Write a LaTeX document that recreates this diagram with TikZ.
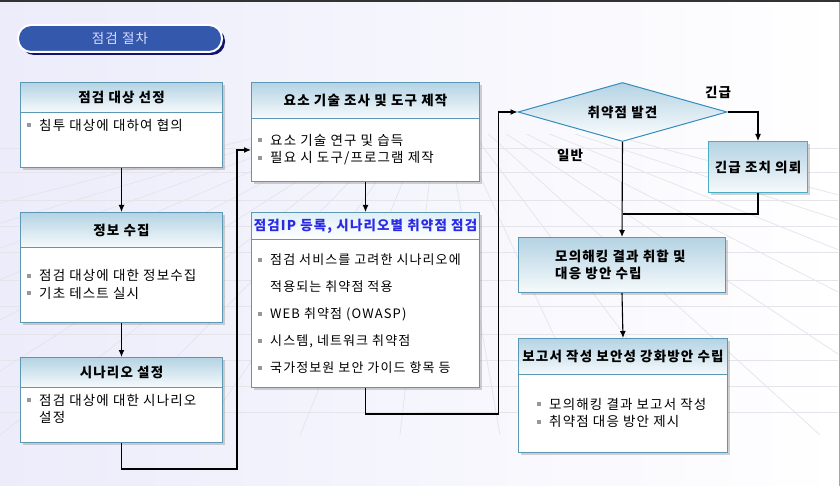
\documentclass[tikz,border=0pt]{standalone}
\usepackage{fontspec}
\setmainfont{Noto Sans CJK KR}[LetterSpace=8.5]
\usetikzlibrary{shapes.geometric,shadows,arrows.meta,positioning}

\definecolor{bgtop}{RGB}{236,236,251}
\definecolor{boxline}{RGB}{92,152,180}
\definecolor{headtop}{RGB}{180,211,227}
\definecolor{headbot}{RGB}{246,250,252}
\definecolor{pale}{RGB}{224,239,248}
\definecolor{pillblue}{RGB}{52,88,172}
\definecolor{pillshade}{RGB}{18,18,112}
\definecolor{bulgray}{RGB}{150,150,158}
\definecolor{gridgray}{RGB}{228,228,234}
\definecolor{linkblue}{RGB}{42,42,228}
\definecolor{dialine}{RGB}{52,140,190}

\newcommand{\bul}{\textcolor{bulgray}{\rule[3pt]{4pt}{4pt}}\hspace{8pt}}
\newcommand{\ind}{\hspace*{12pt}}

\begin{document}
\begin{tikzpicture}[x=1pt, y=-1pt, >={Latex[length=7pt,width=6pt]},
  font=\fontsize{13.5}{17.5}\selectfont,
  frame/.style={draw=boxline, line width=1pt, fill=white, anchor=north west, inner sep=0pt,
    drop shadow={shadow xshift=2.5pt, shadow yshift=-2.5pt, opacity=0.35, fill=black!50}},
  head/.style={draw=boxline, line width=1pt, top color=headtop, bottom color=headbot,
    anchor=north west, inner sep=0pt, font=\fontsize{13.5}{16}\selectfont\bfseries},
  item/.style={anchor=west, inner sep=0pt, align=left},
  link/.style={->, line width=1.1pt},
  tag/.style={font=\fontsize{13.5}{16}\selectfont\bfseries}]

  % background and floor grid
  \useasboundingbox (0,0) rectangle (840,486);
  \shade[left color=bgtop, right color=white] (0,0) rectangle (840,486);
  \begin{scope}
    \clip (0,135) rectangle (838,435);
    \foreach \gx in {-900,-700,-520,-360,-220,-100,0,100,200,300,400,500,600,700,820,960,1120,1300,1500,1750}
      \draw[gridgray, line width=0.7pt] (440,90) -- (\gx,435);
    \foreach \gy in {148,172,200,226,252,280,306,334,360,386,412}
      \draw[gridgray, line width=0.7pt] (0,\gy) -- (838,\gy);
  \end{scope}
  \fill[black!80] (0,0) rectangle (840,2);
  \draw[black!35, line width=1pt] (839,2) -- (839,486);

  % title
  \node[rounded corners=13pt, fill=pillblue, draw=white, line width=2pt,
    minimum width=204pt, minimum height=27pt, text=white!86!blue,
    drop shadow={shadow xshift=3pt, shadow yshift=-3pt, fill=pillshade, opacity=1}]
    (title) at (120,38.5) {점검 절차};

  % left column
  \node[frame, minimum width=202pt, minimum height=85pt] (target) at (20,82) {};
  \node[head, minimum width=202pt, minimum height=30pt] (targethd) at (target.north west) {점검 대상 선정};
  \node[item] (targettx) at (27,125) {\bul 침투 대상에 대하여 협의};

  \node[frame, minimum width=202pt, minimum height=110pt] (info) at (20,212) {};
  \node[head, minimum width=202pt, minimum height=35pt] (infohd) at (info.north west) {정보 수집};
  \node[item] (infotx) at (27,284.5) {\bul 점검 대상에 대한 정보수집\\\bul 기초 테스트 실시};

  \node[frame, minimum width=202pt, minimum height=85pt] (scen) at (20,357) {};
  \node[head, minimum width=202pt, minimum height=30pt] (scenhd) at (scen.north west) {시나리오 설정};
  \node[item] (scentx) at (27,409) {\bul 점검 대상에 대한 시나리오\\\ind 설정};

  % middle column
  \node[frame, minimum width=228pt, minimum height=99pt] (tool) at (251,82) {};
  \node[head, minimum width=228pt, minimum height=36pt] (toolhd) at (tool.north west) {요소 기술 조사 및 도구 제작};
  \node[item] (tooltx) at (258,149.5) {\bul 요소 기술 연구 및 습득\\\bul 필요 시 도구/프로그램 제작};

  \node[frame, minimum width=228pt, minimum height=175pt] (check) at (251,212) {};
  \node[head, minimum width=228pt, minimum height=27pt, top color=pale, bottom color=white,
    text=linkblue] (checkhd) at (check.north west) {점검IP 등록, 시나리오별 취약점 점검};
  \node[item, font=\fontsize{13}{27}\selectfont] (checktx) at (258,314)
    {\bul 점검 서비스를 고려한 시나리오에\\\ind 적용되는 취약점 적용\\\bul WEB 취약점 (OWASP)\\\bul 시스템, 네트워크 취약점\\\bul 국가정보원 보안 가이드 항목 등};

  % right column
  \node[diamond, draw=dialine, line width=1pt, top color=headtop, bottom color=white,
    minimum width=209pt, minimum height=59pt, aspect=3.5, inner sep=0pt,
    font=\fontsize{13.5}{16}\selectfont\bfseries] (find) at (622.5,112) {취약점 발견};

  \node[frame, minimum width=99pt, minimum height=51pt, top color=headtop, bottom color=headbot,
    draw=boxline!80!cyan, font=\fontsize{13.5}{16}\selectfont\bfseries] (urgent) at (708,141) {긴급 조치 의뢰};

  \node[frame, minimum width=207pt, minimum height=55pt, top color=headtop, bottom color=headbot] (merge) at (518,237) {};
  \node[item, font=\fontsize{13.5}{16.5}\selectfont\bfseries] (mergetx) at (555,265) {모의해킹 결과 취합 및\\대응 방안 수립};

  \node[frame, minimum width=209pt, minimum height=114pt] (report) at (518,338) {};
  \node[head, minimum width=209pt, minimum height=36pt] (reporthd) at (report.north west) {보고서 작성 보안성 강화방안 수립};
  \node[item] (reporttx) at (537,413) {\bul 모의해킹 결과 보고서 작성\\\bul 취약점 대응 방안 제시};

  % labels
  \node[tag] (urgtag) at (718,92) {긴급};
  \node[tag] (normtag) at (570,155) {일반};
  \coordinate (join) at (622.5,214);

  % connectors
  \draw[link] (target.south) -- (info.north);
  \draw[link] (info.south) -- (scen.north);
  \draw[link] (scen.south) -- ++(0,26) -| ([xshift=-14pt,yshift=-18pt]tool.west) -- ([yshift=-18pt]tool.west);
  \draw[link] (tool.south) -- (check.north);
  \draw[link] (check.south) -- ++(0,26) -| ([xshift=-19pt]find.west) -- (find.west);
  \draw[link] (find.east) -| (urgent.north);
  \draw[line width=1.1pt] (urgent.south) |- (join);
  \draw[link] (find.south) -- (merge.north);
  \draw[link] (merge.south) -- (report.north);

\end{tikzpicture}
\end{document}
